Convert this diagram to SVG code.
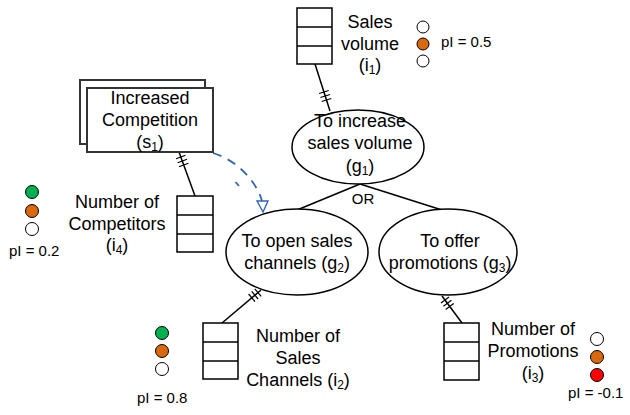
<svg xmlns="http://www.w3.org/2000/svg" width="630" height="415" viewBox="0 0 630 415">
<style>
text{font-family:"Liberation Sans",Arial,sans-serif;font-size:18px;fill:#000}
.m{text-anchor:middle}
.p{font-size:15px}
.s{font-size:12px}
.box{fill:#fff;stroke:#000;stroke-width:1.5}
.goal{fill:#fff;stroke:#000;stroke-width:1.5}
.ln{stroke:#000;stroke-width:1.5;fill:none}
.tk{stroke:#000;stroke-width:1.2}
.c{stroke:#000;stroke-width:1}
.sit{fill:#fff;stroke:#333;stroke-width:2}
.dep{fill:none;stroke:#2E68B0;stroke-width:1.8}
</style>
<g id="connectors">
<line class="ln" x1="315" y1="64" x2="330" y2="111"/>
<line class="tk" x1="319.1" y1="93.5" x2="328.7" y2="90.5"/>
<line class="tk" x1="320.4" y1="97.5" x2="330" y2="94.5"/>
<line class="tk" x1="321.7" y1="101.5" x2="331.3" y2="98.5"/>
<line class="ln" x1="179" y1="152" x2="195" y2="196"/>
<line class="tk" x1="176.1" y1="158.7" x2="185.5" y2="155.3"/>
<line class="tk" x1="177.6" y1="162.7" x2="187" y2="159.3"/>
<line class="tk" x1="179" y1="166.7" x2="188.4" y2="163.3"/>
<line class="ln" x1="261" y1="290" x2="222" y2="323"/>
<line class="tk" x1="254.8" y1="288.8" x2="261.2" y2="296.4"/>
<line class="tk" x1="251.7" y1="291.4" x2="258.1" y2="299"/>
<line class="tk" x1="248.6" y1="294" x2="255" y2="301.6"/>
<line class="ln" x1="442" y1="296" x2="462" y2="323"/>
<line class="tk" x1="441" y1="303" x2="449" y2="297"/>
<line class="tk" x1="443.4" y1="306.2" x2="451.4" y2="300.2"/>
<line class="tk" x1="445.7" y1="309.5" x2="453.7" y2="303.5"/>
<line class="ln" x1="360" y1="184" x2="297" y2="210"/>
<line class="ln" x1="360" y1="184" x2="442" y2="210"/>
<path class="dep" d="M213,153 C236,160 256,180 262,201" stroke-dasharray="9,7"/>
<line class="dep" x1="235.5" y1="182" x2="239" y2="186"/>
<polygon points="257,201 268,201 263,212" fill="#fff" stroke="#2E68B0" stroke-width="1.4"/>
</g>
<g id="g1">
<ellipse class="goal" cx="358" cy="147" rx="66" ry="37"/>
<text class="m" x="360" y="127">To increase</text>
<text class="m" x="360" y="149">sales volume</text>
<text class="m" x="360" y="172">(g<tspan class="s" dy="3">1</tspan><tspan dy="-3">)</tspan></text>
</g>
<text id="or" class="m p" x="363" y="204">OR</text>
<g id="g2">
<ellipse class="goal" cx="297" cy="252" rx="71" ry="43"/>
<text class="m" x="297" y="247">To open sales</text>
<text class="m" x="297" y="269">channels (g<tspan class="s" dy="3">2</tspan><tspan dy="-3">)</tspan></text>
</g>
<g id="g3">
<ellipse class="goal" cx="448" cy="252" rx="69" ry="43"/>
<text class="m" x="450" y="247">To offer</text>
<text class="m" x="450" y="269">promotions (g<tspan class="s" dy="3">3</tspan><tspan dy="-3">)</tspan></text>
</g>
<g id="s1">
<rect class="sit" x="80" y="80" width="125" height="64"/>
<rect class="sit" x="87" y="88" width="126" height="64"/>
<text class="m" x="150" y="104">Increased</text>
<text class="m" x="150" y="126">Competition</text>
<text class="m" x="150" y="148">(s<tspan class="s" dy="3">1</tspan><tspan dy="-3">)</tspan></text>
</g>
<g id="i1">
<rect class="box" x="297" y="8" width="35" height="56"/>
<line class="box" x1="297" y1="27" x2="332" y2="27"/>
<line class="box" x1="297" y1="46" x2="332" y2="46"/>
<text class="m" x="370" y="28">Sales</text>
<text class="m" x="370" y="50">volume</text>
<text class="m" x="370" y="71">(i<tspan class="s" dy="3">1</tspan><tspan dy="-3">)</tspan></text>
<circle class="c" cx="423" cy="27" r="6" fill="#fff"/>
<circle class="c" cx="423" cy="44" r="6" fill="#D9680F"/>
<circle class="c" cx="423" cy="61" r="6" fill="#fff"/>
<text class="p" x="441" y="47">pI = 0.5</text>
</g>
<g id="i4">
<rect class="box" x="177" y="196" width="36" height="56"/>
<line class="box" x1="177" y1="215" x2="213" y2="215"/>
<line class="box" x1="177" y1="234" x2="213" y2="234"/>
<text class="m" x="117" y="208">Number of</text>
<text class="m" x="117" y="230">Competitors</text>
<text class="m" x="117" y="251">(i<tspan class="s" dy="3">4</tspan><tspan dy="-3">)</tspan></text>
<circle class="c" cx="32" cy="192" r="6.5" fill="#00B050"/>
<circle class="c" cx="32" cy="211" r="6.5" fill="#D9680F"/>
<circle class="c" cx="32" cy="229" r="6.5" fill="#fff"/>
<text class="p" x="9" y="256">pI = 0.2</text>
</g>
<g id="i2">
<rect class="box" x="203" y="323" width="35" height="56"/>
<line class="box" x1="203" y1="342" x2="238" y2="342"/>
<line class="box" x1="203" y1="361" x2="238" y2="361"/>
<text class="m" x="298" y="342">Number of</text>
<text class="m" x="298" y="364">Sales</text>
<text class="m" x="298" y="386">Channels (i<tspan class="s" dy="3">2</tspan><tspan dy="-3">)</tspan></text>
<circle class="c" cx="162" cy="333" r="6.5" fill="#00B050"/>
<circle class="c" cx="162" cy="351" r="6.5" fill="#D9680F"/>
<circle class="c" cx="162" cy="369" r="6.5" fill="#fff"/>
<text class="p" x="137" y="403">pI = 0.8</text>
</g>
<g id="i3">
<rect class="box" x="444" y="323" width="35" height="57"/>
<line class="box" x1="444" y1="342" x2="479" y2="342"/>
<line class="box" x1="444" y1="361" x2="479" y2="361"/>
<text class="m" x="533" y="335">Number of</text>
<text class="m" x="533" y="357">Promotions</text>
<text class="m" x="533" y="379">(i<tspan class="s" dy="3">3</tspan><tspan dy="-3">)</tspan></text>
<circle class="c" cx="597" cy="339" r="6.5" fill="#fff"/>
<circle class="c" cx="597" cy="357" r="6.5" fill="#D9680F"/>
<circle class="c" cx="597" cy="375" r="6.5" fill="#FF0000"/>
<text class="p" x="568" y="398">pI = -0.1</text>
</g>
</svg>
